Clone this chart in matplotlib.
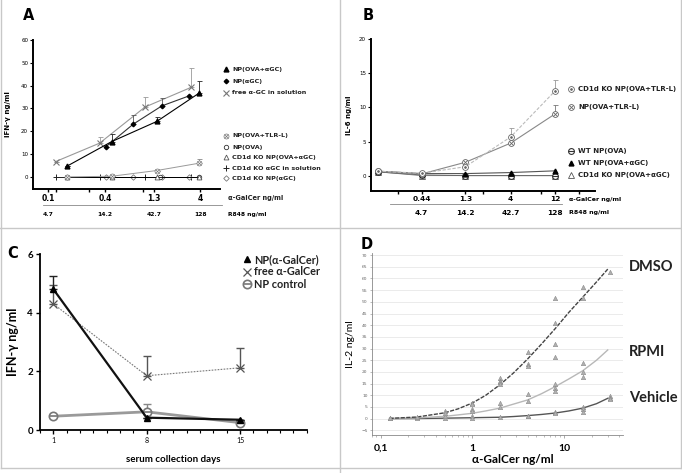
import matplotlib
matplotlib.use("Agg")
import matplotlib.pyplot as plt
from matplotlib.lines import Line2D
from matplotlib import transforms
import numpy as np

W, H = 682, 473
plt.rcParams['font.family'] = ['DejaVu Sans']

# ---------------- Panel A data ----------------
A_ticks = [0.1, 0.4, 1.3, 4]
A_tick_labels = ['0.1', '0.4', '1.3', '4']
A_r848 = ['4.7', '14.2', '42.7', '128']
A_x_ova_agc = [0.16, 0.47, 1.4, 3.9]
A_ova_agc = [4.8, 15.5, 24.3, 36.7]
A_ova_agc_err = [0, 3.4, 1.9, 5.5]
A_x_agc = [0.41, 0.79, 1.58, 3.06]
A_agc = [13.3, 23.1, 31.1, 35.5]
A_agc_err = [0, 4.0, 3.5, 0]
A_x_free = [0.12, 0.35, 1.05, 3.2]
A_free = [6.7, 14.8, 30.6, 39.2]
A_free_err = [0, 2.6, 4.6, 8.5]
A_x_tlr = [0.16, 0.47, 1.4, 3.9]
A_tlr = [0.0, 0.3, 2.8, 6.0]
A_tlr_err = [0, 0, 0, 2.0]
A_x_ova = [0.16, 0.47, 1.52, 3.9]
A_ova = [0.0, 0.0, 0.0, 0.0]
A_x_ko_ova_agc = [0.16, 0.47, 1.4, 3.9]
A_ko_ova_agc = [0.0, 0.0, 0.0, 0.0]
A_x_ko_free = [0.12, 0.35, 1.05, 3.2]
A_ko_free = [0.0, 0.0, 0.0, 0.0]
A_x_ko_agc = [0.41, 0.79, 1.58, 3.06]
A_ko_agc = [0.0, 0.0, 0.0, 0.0]

# ---------------- Panel B data ----------------
B_conc = [0.148, 0.44, 1.3, 4, 12]
B_tick_labels = ['0.44', '1.3', '4', '12']
B_r848 = ['4.7', '14.2', '42.7', '128']
B_ko_tlr = [0.7, 0.4, 1.35, 5.7, 12.4]
B_ko_tlr_err = [0, 0, 0, 1.3, 1.6]
B_tlr = [0.7, 0.3, 2.0, 4.8, 9.05]
B_tlr_err = [0, 0, 0, 0, 1.35]
B_wt_ova = [0.6, 0.15, 0.05, 0.05, 0.05]
B_wt_ova_agc = [0.7, 0.35, 0.35, 0.5, 0.75]
B_ko_ova_agc = [0.6, 0.05, 0.05, 0.05, 0.05]

# ---------------- Panel C data ----------------
C_days = [1, 8, 15]
C_np_agc = [4.8, 0.42, 0.35]
C_np_agc_err = [0.45, 0, 0]
C_free = [4.3, 1.85, 2.12]
C_free_err = [0.65, 0.67, 0.68]
C_ctrl = [0.47, 0.62, 0.25]
C_ctrl_err = [0, 0.28, 0]

# ---------------- Panel D data ----------------
D_curve_x = [0.125, 0.25, 0.5, 0.7, 1, 1.4, 2, 2.8, 4, 5.7, 8, 11.3, 16, 22.6, 30]
D_dmso_curve = [0.1, 0.7, 2.5, 4.2, 6.7, 10, 14.5, 19.5, 25.5, 32, 38.5, 45.5, 52, 58.5, 64]
D_rpmi_curve = [0.1, 0.3, 1.0, 1.6, 2.3, 3.3, 4.5, 6.2, 8.0, 10.7, 13.7, 17, 20.5, 25, 29.4]
D_veh_curve = [0.0, 0.05, 0.2, 0.3, 0.4, 0.5, 0.6, 0.9, 1.3, 1.8, 2.4, 3.3, 4.5, 6.4, 8.7]
D_dmso_px = [0.125, 0.25, 0.5, 0.5, 1, 1, 2, 2, 2, 2, 4, 4, 4, 8, 8, 8, 8, 16, 16, 32]
D_dmso_py = [0.2, 0.6, 3.2, 2.5, 6.8, 6.3, 17.3, 16.3, 15.5, 14.8, 28.4, 23.5, 22.5, 51.5, 40.9, 31.8, 26.5, 56.4, 51.5, 62.6]
D_rpmi_px = [0.25, 0.5, 1, 1, 2, 2, 4, 4, 8, 8, 8, 16, 16, 16]
D_rpmi_py = [0.3, 1.0, 4.2, 3.3, 6.8, 5.0, 10.5, 7.5, 14.8, 13.0, 12.0, 24.0, 20.0, 18.0]
D_veh_px = [0.125, 0.5, 1, 1, 2, 4, 4, 8, 8, 16, 16, 16, 32, 32, 32]
D_veh_py = [0.1, 0.2, 1.0, 0.4, 0.5, 1.3, 1.0, 2.8, 2.3, 5.0, 4.0, 3.0, 9.8, 9.0, 8.6]
D_labels = ['DMSO', 'RPMI', 'Vehicle']


def rect(l, t, r, b):
    return [l / W, 1 - b / H, (r - l) / W, (b - t) / H]


def fx(x):
    return x / W


def fy(y):
    return 1 - y / H


fig = plt.figure(figsize=(W / 100, H / 100), dpi=100)

# panel borders
for (x0, y0, x1, y1) in [(339.5, 0, 339.5, 473), (0, 228.5, 682, 228.5),
                         (1, 0, 1, 468), (680.5, 0, 680.5, 468), (1, 468, 680.5, 468)]:
    fig.add_artist(Line2D([fx(x0), fx(x1)], [fy(y0), fy(y1)], color='#c8c8c8', lw=1.0))


# a style = (line props, list of marker layers)
def circ(ms, ec, inner, inner_ms, mew=0.6):
    return [dict(marker='o', ms=ms, mfc='white', mec=ec, mew=mew),
            dict(marker=inner, ms=inner_ms, mfc=ec, mec=ec, mew=mew)]


def draw_series(ax, x, y, style, err=None, ecolor='#555555', elw=0.6, cap=1.8, clip=True):
    line, layers = style
    if err is not None:
        ax.errorbar(x, y, yerr=[np.zeros(len(err)), err], fmt='none', ecolor=ecolor,
                    elinewidth=elw, capsize=cap, capthick=elw)
    ax.plot(x, y, ls=line.get('ls', '-'), lw=line['lw'], color=line['color'], clip_on=clip)
    for lay in layers:
        ax.plot(x, y, ls='none', clip_on=clip, **lay)


def legend_entry(xm, xt, y, style, label, fs=4.8, family=None):
    for lay in style[1]:
        fig.add_artist(Line2D([fx(xm)], [fy(y)], linestyle='none', **lay))
    kw = dict(fontfamily=family) if family else {}
    fig.text(fx(xt), fy(y), label, ha='left', va='center', fontsize=fs,
             fontweight='bold', color='#222222', **kw)


# ================= Panel A =================
axA = fig.add_axes(rect(33, 40, 220, 189))
axA.set_xscale('log')
axA.set_xlim(0.0695, 6.49)
axA.set_ylim(-5.3, 60)

sA = {
    'ova_agc': (dict(color='black', lw=0.8), [dict(marker='^', ms=3.5, mfc='black', mec='black')]),
    'agc': (dict(color='#333333', lw=0.8), [dict(marker='D', ms=2.3, mfc='black', mec='black')]),
    'free': (dict(color='#999999', lw=0.8), [dict(marker='x', ms=4, mew=0.8, mec='#777777')]),
    'tlr': (dict(color='#999999', lw=0.7), circ(3.6, '#777777', 'x', 2.4, 0.5)),
    'ova': (dict(color='black', lw=0.6), [dict(marker='o', ms=3.2, mfc='white', mec='#333333', mew=0.6)]),
    'ko_ova_agc': (dict(color='black', lw=0.6), [dict(marker='^', ms=3.5, mfc='white', mec='#555555', mew=0.6)]),
    'ko_free': (dict(color='black', lw=0.6), [dict(marker='+', ms=4, mec='#222222', mew=0.7)]),
    'ko_agc': (dict(color='black', lw=0.6), [dict(marker='D', ms=2.8, mfc='white', mec='#777777', mew=0.6)]),
}

draw_series(axA, A_x_ko_free, A_ko_free, sA['ko_free'], clip=False)
draw_series(axA, A_x_ko_agc, A_ko_agc, sA['ko_agc'], clip=False)
draw_series(axA, A_x_ova, A_ova, sA['ova'], clip=False)
draw_series(axA, A_x_ko_ova_agc, A_ko_ova_agc, sA['ko_ova_agc'], clip=False)
draw_series(axA, A_x_tlr, A_tlr, sA['tlr'], A_tlr_err, '#888888')
draw_series(axA, A_x_free, A_free, sA['free'], A_free_err, '#999999')
draw_series(axA, A_x_agc, A_agc, sA['agc'], A_agc_err, '#555555')
draw_series(axA, A_x_ova_agc, A_ova_agc, sA['ova_agc'], A_ova_agc_err, '#222222')

for sp in ['top', 'right']:
    axA.spines[sp].set_visible(False)
for sp in ['left', 'bottom']:
    axA.spines[sp].set_linewidth(1.4)
axA.set_yticks(range(0, 61, 10))
axA.tick_params(axis='y', labelsize=4, length=2, width=0.8, pad=1.5)
axA.set_xticks(A_ticks)
axA.set_xticks([0.12, 0.27, 1.0], minor=True)
axA.tick_params(axis='x', which='both', length=2.5, width=1.0, labelbottom=False)
axA.set_ylabel('IFN-γ ng/ml', fontsize=5, fontweight='bold', labelpad=7)
trA = transforms.blended_transform_factory(axA.transData, fig.transFigure)
for xv, lab, r in zip(A_ticks, A_tick_labels, A_r848):
    fig.text(xv, fy(198), lab, transform=trA, ha='center', va='center', fontsize=5.5, fontweight='bold')
    fig.text(xv, fy(214), r, transform=trA, ha='center', va='center', fontsize=4.3, fontweight='bold')
fig.add_artist(Line2D([fx(43), fx(222)], [fy(205.5), fy(205.5)], color='#888888', lw=0.6))
fig.text(fx(228), fy(198), 'α-GalCer ng/ml', ha='left', va='center', fontsize=4.8, fontweight='bold', color='#222222')
fig.text(fx(228), fy(214), 'R848 ng/ml', ha='left', va='center', fontsize=4.3, fontweight='bold')
fig.text(fx(23), fy(15), 'A', fontsize=10.5, fontweight='bold', ha='left', va='center')

A_leg = [('ova_agc', 'NP(OVA+αGC)', 69), ('agc', 'NP(αGC)', 81),
         ('free', 'free α-GC in solution', 93), ('tlr', 'NP(OVA+TLR-L)', 136),
         ('ova', 'NP(OVA)', 147), ('ko_ova_agc', 'CD1d KO NP(OVA+αGC)', 157),
         ('ko_free', 'CD1d KO αGC in solution', 168), ('ko_agc', 'CD1d KO NP(αGC)', 178)]
for key, lab, y in A_leg:
    legend_entry(226, 232, y, sA[key], lab, fs=4.6)

# ================= Panel B =================
axB = fig.add_axes(rect(371, 39, 595, 190.7))
axB.set_xscale('log')
axB.set_xlim(0.125, 32.4)
axB.set_ylim(-2.15, 20)
sB = {
    'ko_tlr': (dict(color='#bbbbbb', lw=0.8, ls=(0, (3, 1.5))), circ(4.2, '#666666', '.', 2.5, 0.6)),
    'tlr': (dict(color='#888888', lw=0.8), circ(4.2, '#666666', 'x', 2.8, 0.6)),
    'wt_ova': (dict(color='#666666', lw=0.7), circ(4.2, '#333333', '_', 4.0, 0.8)),
    'wt_ova_agc': (dict(color='#555555', lw=0.8), [dict(marker='^', ms=3.5, mfc='black', mec='black')]),
    'ko_ova_agc': (dict(color='#777777', lw=0.6), [dict(marker='^', ms=3.8, mfc='white', mec='#555555', mew=0.6)]),
}
draw_series(axB, B_conc, B_ko_ova_agc, sB['ko_ova_agc'])
draw_series(axB, B_conc, B_wt_ova, sB['wt_ova'])
draw_series(axB, B_conc, B_wt_ova_agc, sB['wt_ova_agc'])
draw_series(axB, B_conc, B_tlr, sB['tlr'], B_tlr_err, '#777777')
draw_series(axB, B_conc, B_ko_tlr, sB['ko_tlr'], B_ko_tlr_err, '#999999')
for sp in ['top', 'right']:
    axB.spines[sp].set_visible(False)
for sp in ['left', 'bottom']:
    axB.spines[sp].set_linewidth(1.4)
axB.set_yticks(range(0, 21, 5))
axB.tick_params(axis='y', labelsize=4, length=2, width=0.8, pad=1.5)
axB.set_xticks(B_conc[1:])
axB.set_xticks([0.244, 2.03, 8.4, 22], minor=True)
axB.tick_params(axis='x', which='both', length=2.5, width=1.0, labelbottom=False)
axB.set_ylabel('IL-6 ng/ml', fontsize=5, fontweight='bold', labelpad=5)
trB = transforms.blended_transform_factory(axB.transData, fig.transFigure)
for xv, lab, r in zip(B_conc[1:], B_tick_labels, B_r848):
    fig.text(xv, fy(199.3), lab, transform=trB, ha='center', va='center', fontsize=5.3, fontweight='bold')
    fig.text(xv, fy(212.7), r, transform=trB, ha='center', va='center', fontsize=5.3, fontweight='bold')
fig.add_artist(Line2D([fx(390), fx(562)], [fy(204), fy(204)], color='#888888', lw=0.6))
fig.text(fx(569), fy(199.3), 'α-GalCer ng/ml', ha='left', va='center', fontsize=4.5, fontweight='bold')
fig.text(fx(569), fy(212.7), 'R848 ng/ml', ha='left', va='center', fontsize=4.5, fontweight='bold')
fig.text(fx(363), fy(15), 'B', fontsize=10.5, fontweight='bold', ha='left', va='center')
B_leg = [('ko_tlr', 'CD1d KO NP(OVA+TLR-L)', 89.3), ('tlr', 'NP(OVA+TLR-L)', 106.7),
         ('wt_ova', 'WT NP(OVA)', 151), ('wt_ova_agc', 'WT NP(OVA+αGC)', 162.7),
         ('ko_ova_agc', 'CD1d KO NP(OVA+αGC)', 175)]
for key, lab, y in B_leg:
    legend_entry(571, 578, y, sB[key], lab, fs=5)

# ================= Panel C =================
CF = 'Lato'
axC = fig.add_axes(rect(40, 254, 306.7, 430))
axC.set_xlim(0, 20)
axC.set_ylim(0, 6)
sC = {
    'np': (dict(color='#111111', lw=1.6), [dict(marker='^', ms=5, mfc='black', mec='black')]),
    'free': (dict(color='#777777', lw=0.8, ls=(0, (1.5, 1.2))), [dict(marker='x', ms=5.5, mew=0.9, mec='#555555')]),
    'ctrl': (dict(color='#9a9a9a', lw=2.0), circ(6.0, '#777777', '_', 5.5, 1.2)),
}
draw_series(axC, C_days, C_ctrl, sC['ctrl'], C_ctrl_err, '#888888', 1.0, 3)
draw_series(axC, C_days, C_free, sC['free'], C_free_err, '#555555', 1.0, 3)
draw_series(axC, C_days, C_np_agc, sC['np'], C_np_agc_err, '#222222', 1.0, 3)
for sp in ['top', 'right']:
    axC.spines[sp].set_visible(False)
for sp in ['left', 'bottom']:
    axC.spines[sp].set_linewidth(1.3)
axC.set_yticks([0, 2, 4, 6])
axC.set_yticklabels(['0', '2', '4', '6'], fontfamily=CF, fontweight='bold', fontsize=7)
axC.set_xticks(C_days)
axC.set_xticklabels([str(d) for d in C_days], fontfamily=CF, fontsize=5)
axC.set_xticks(range(0, 21), minor=True)
axC.tick_params(axis='both', which='major', length=3, width=1.0, pad=2)
axC.tick_params(axis='x', which='minor', length=2, width=0.8)
axC.set_ylabel('IFN-γ ng/ml', fontfamily=CF, fontweight='bold', fontsize=9, labelpad=6)
axC.set_xlabel('serum collection days', fontfamily=CF, fontweight='bold', fontsize=7, labelpad=8)
fig.text(fx(7), fy(254), 'C', fontsize=10.5, fontweight='bold', ha='left', va='center')
C_leg = [('np', 'NP(α-GalCer)', 259.3), ('free', 'free α-GalCer', 271.7), ('ctrl', 'NP control', 284.3)]
for key, lab, y in C_leg:
    legend_entry(247, 254, y, sC[key], lab, fs=7.8, family=CF)

# ================= Panel D =================
axD = fig.add_axes(rect(371.7, 253, 623, 435))
axD.set_xscale('log')
axD.set_xlim(0.0798, 44)
axD.set_ylim(-7, 70.9)
axD.set_yticks(range(-5, 71, 5))
axD.yaxis.grid(True, color='#e8e8e8', lw=0.6)
axD.set_axisbelow(True)
axD.plot(D_curve_x, D_veh_curve, color='#555555', lw=1.0)
axD.plot(D_curve_x, D_rpmi_curve, color='#b8b8b8', lw=1.0)
axD.plot(D_curve_x, D_dmso_curve, color='#444444', lw=1.0, ls=(0, (3, 1)))
tri = dict(marker='^', ms=3.2, ls='none', mfc='#b0b0b0', mec='#8a8a8a', mew=0.4)
axD.plot(D_veh_px, D_veh_py, **tri)
axD.plot(D_rpmi_px, D_rpmi_py, **tri)
axD.plot(D_dmso_px, D_dmso_py, **tri)
for sp in ['top', 'right']:
    axD.spines[sp].set_visible(False)
for sp in ['left', 'bottom']:
    axD.spines[sp].set_linewidth(0.6)
    axD.spines[sp].set_color('#888888')
axD.tick_params(axis='y', labelsize=3.2, labelcolor='#666666', length=1.5, width=0.4, color='#888888', pad=1.5)
axD.set_xticks([0.1, 1, 10])
axD.set_xticklabels(['0,1', '1', '10'], fontfamily=CF, fontweight='bold', fontsize=7.5)
axD.tick_params(axis='x', which='major', length=2.5, width=0.5, color='#888888', pad=4)
axD.tick_params(axis='x', which='minor', length=1.5, width=0.4, color='#888888')
axD.set_xlabel('α-GalCer ng/ml', fontfamily=CF, fontweight='bold', fontsize=8.5, labelpad=2)
axD.xaxis.set_label_coords(0.562, -0.105)
axD.set_ylabel('IL-2 ng/ml', fontfamily=CF, fontsize=7.5, labelpad=4)
fig.text(fx(361), fy(244.5), 'D', fontsize=10.5, fontweight='bold', ha='left', va='center')
for lab, y in zip(D_labels, [267, 352, 397.7]):
    fig.text(fx(629), fy(y), lab, fontfamily=CF, fontweight='bold', fontsize=10.5, ha='left', va='center', color='#222222')

fig.savefig('out.png', dpi=100)
